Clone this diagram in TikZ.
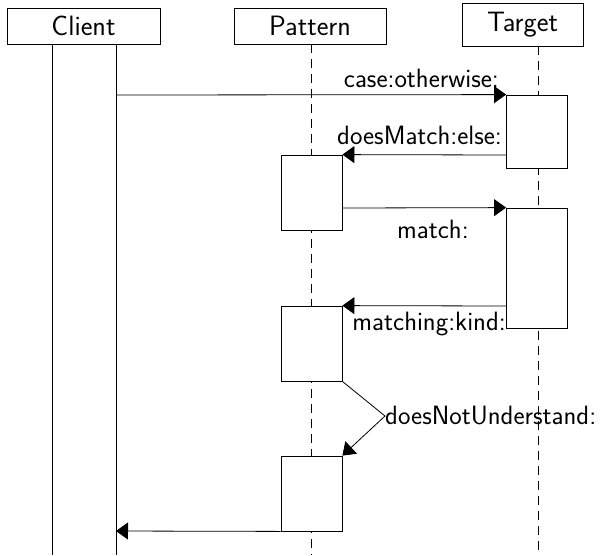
\documentclass[tikz,border=0pt]{standalone}
\usetikzlibrary{arrows.meta}
\begin{document}
\begin{tikzpicture}[x=1pt,y=-1pt,
  hdr/.style={draw,fill=white,line width=0.8pt,inner sep=0pt,font=\sffamily\fontsize{28}{32}\selectfont},
  act/.style={draw,fill=white,line width=0.8pt,inner sep=0pt,minimum width=61pt},
  life/.style={line width=0.8pt,dash pattern=on 9pt off 6pt},
  msg/.style={line width=0.8pt,-{Triangle[length=12pt,width=17pt]}},
  lbl/.style={font=\sffamily\fontsize{26.5}{30}\selectfont,inner sep=0pt}]
\useasboundingbox (0,0) rectangle (610,555);
% headers
\node[hdr,minimum width=153pt,minimum height=36pt] (client) at (83.5,26) {Client};
\node[hdr,minimum width=152pt,minimum height=36pt] (pattern) at (310,26) {Pattern};
\node[hdr,minimum width=121pt,minimum height=43pt] (target) at (522.5,24.5) {Target};
% lifelines
\coordinate (cl1top) at (52,44);  \coordinate (cl1bot) at (52,555);
\coordinate (cl2top) at (116,44); \coordinate (cl2bot) at (116,555);
\coordinate (pltop) at (311,44);  \coordinate (plbot) at (311,555);
\coordinate (tltop) at (538,46);  \coordinate (tlbot) at (538,555);
\draw[line width=0.8pt] (cl1top) -- (cl1bot);
\draw[line width=0.8pt] (cl2top) -- (cl2bot);
\draw[life] (pltop) -- (plbot);
\draw[life] (tltop) -- (tlbot);
% activations
\node[act,minimum height=73pt] (t1) at (537,131.5) {};
\node[act,minimum height=75pt] (p1) at (311.5,192.5) {};
\node[act,minimum height=120pt] (t2) at (537,268) {};
\node[act,minimum height=75pt] (p2) at (311.5,343.5) {};
\node[act,minimum height=75pt] (p3) at (311.5,493.5) {};
% messages
\coordinate (c1) at (116,95);
\draw[msg] (c1) -- (t1.north west);
\node[lbl,anchor=base east] (l1) at (499,87) {case:otherwise:};
\coordinate (t1a) at (506,155);
\draw[msg] (t1a) -- (p1.north east);
\node[lbl,anchor=base east] (l2) at (502,144) {doesMatch:else:};
\coordinate (p1a) at (342,208);
\draw[msg] (p1a) -- (t2.north west);
\node[lbl,anchor=base west] (l3) at (397,238) {match:};
\coordinate (t2a) at (506,306);
\draw[msg] (t2a) -- (p2.north east);
\node[lbl,anchor=base east] (l4) at (506,330) {matching:kind:};
\coordinate (elb) at (385,416);
\draw[msg] (p2.south east) -- (elb) -- (p3.north east);
\node[lbl,anchor=west] (l5) at (elb) {doesNotUnderstand:};
\coordinate (c2) at (116,531);
\draw[msg] (p3.south west) -- (c2);
\end{tikzpicture}
\end{document}
